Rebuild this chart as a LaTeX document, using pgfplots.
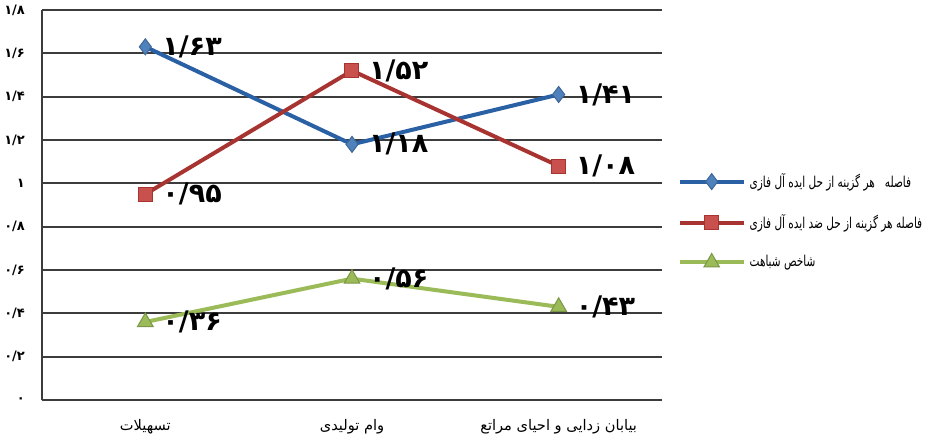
\documentclass[border=0pt]{standalone}
\usepackage{fontspec}
\usepackage{graphicx}
\usepackage{pgfplots}
\pgfplotsset{compat=1.18}
\newfontfamily\arabicfont[Script=Arabic]{DejaVu Sans}
\TeXXeTstate=1
\newcommand{\legtxt}[1]{\scalebox{0.7}[1]{\beginR #1\endR}}
\definecolor{blueL}{RGB}{42,96,164}
\definecolor{blueM}{RGB}{79,129,189}
\definecolor{redL}{RGB}{168,52,50}
\definecolor{redM}{RGB}{200,80,77}
\definecolor{greenL}{RGB}{155,187,89}
\definecolor{gridc}{RGB}{60,60,60}
\begin{document}
\begin{tikzpicture}
\useasboundingbox (0,0) rectangle (464pt,220.5pt);
\begin{axis}[
  at={(21pt,20.5pt)}, anchor=south west,
  scale only axis, width=310pt, height=195pt,
  xmin=-0.5, xmax=2.5, ymin=0, ymax=1.8,
  xtick={0,1,2},
  xticklabels={{\beginR تسهیلات\endR},{\beginR وام تولیدی\endR},{\beginR بیابان زدایی و احیای مراتع\endR}},
  ytick={0,0.2,0.4,0.6,0.8,1,1.2,1.4,1.6,1.8},
  yticklabels={۰,۰/۲,۰/۴,۰/۶,۰/۸,۱,۱/۲,۱/۴,۱/۶,۱/۸},
  ymajorgrids, major grid style={gridc, line width=0.9pt},
  axis x line*=bottom, axis y line*=left,
  axis line style={gridc, line width=0.9pt, -},
  major tick length=0pt,
  yticklabel style={font=\arabicfont\bfseries\fontsize{6.5}{8}\selectfont, anchor=east, xshift=-5pt},
  xticklabel style={font=\arabicfont\fontsize{7.3}{8}\selectfont, yshift=-6pt},
  clip=false,
  point meta=explicit symbolic,
  nodes near coords,
  nodes near coords style={anchor=west, xshift=5pt, text=black, font=\arabicfont\bfseries\fontsize{13.5}{14}\selectfont},
  legend style={draw=none, fill=none, at={(1.015,0.458)}, anchor=west,
    font=\arabicfont\fontsize{7.5}{9}\selectfont, row sep=8pt, cells={anchor=west}},
  legend image code/.code={\draw[mark repeat=2,mark phase=2,#1] plot coordinates {(0pt,0pt) (16pt,0pt) (32pt,0pt)};},
]
\addplot[blueL, line width=2pt, mark=diamond*, mark size=4pt, mark options={fill=blueM, draw=blueM!80!black, line width=0.5pt}]
  coordinates {(0,1.63) [۱/۶۳] (1,1.18) [۱/۱۸] (2,1.41) [۱/۴۱]};
\addlegendentry{\legtxt{فاصله\ \ \ هر گزینه از حل ایده آل فازی}}
\addplot[redL, line width=2pt, mark=square*, mark size=3.5pt, mark options={fill=redM, draw=redL, line width=0.5pt}]
  coordinates {(0,0.95) [۰/۹۵] (1,1.52) [۱/۵۲] (2,1.08) [۱/۰۸]};
\addlegendentry{\legtxt{فاصله هر گزینه از حل ضد ایده آل فازی}}
\addplot[greenL, line width=2pt, mark=triangle*, mark size=4.5pt, mark options={fill=greenL, draw=greenL!80!black, line width=0.5pt}]
  coordinates {(0,0.36) [۰/۳۶] (1,0.56) [۰/۵۶] (2,0.43) [۰/۴۳]};
\addlegendentry{\legtxt{شاخص شباهت}}
\end{axis}
\end{tikzpicture}
\end{document}
